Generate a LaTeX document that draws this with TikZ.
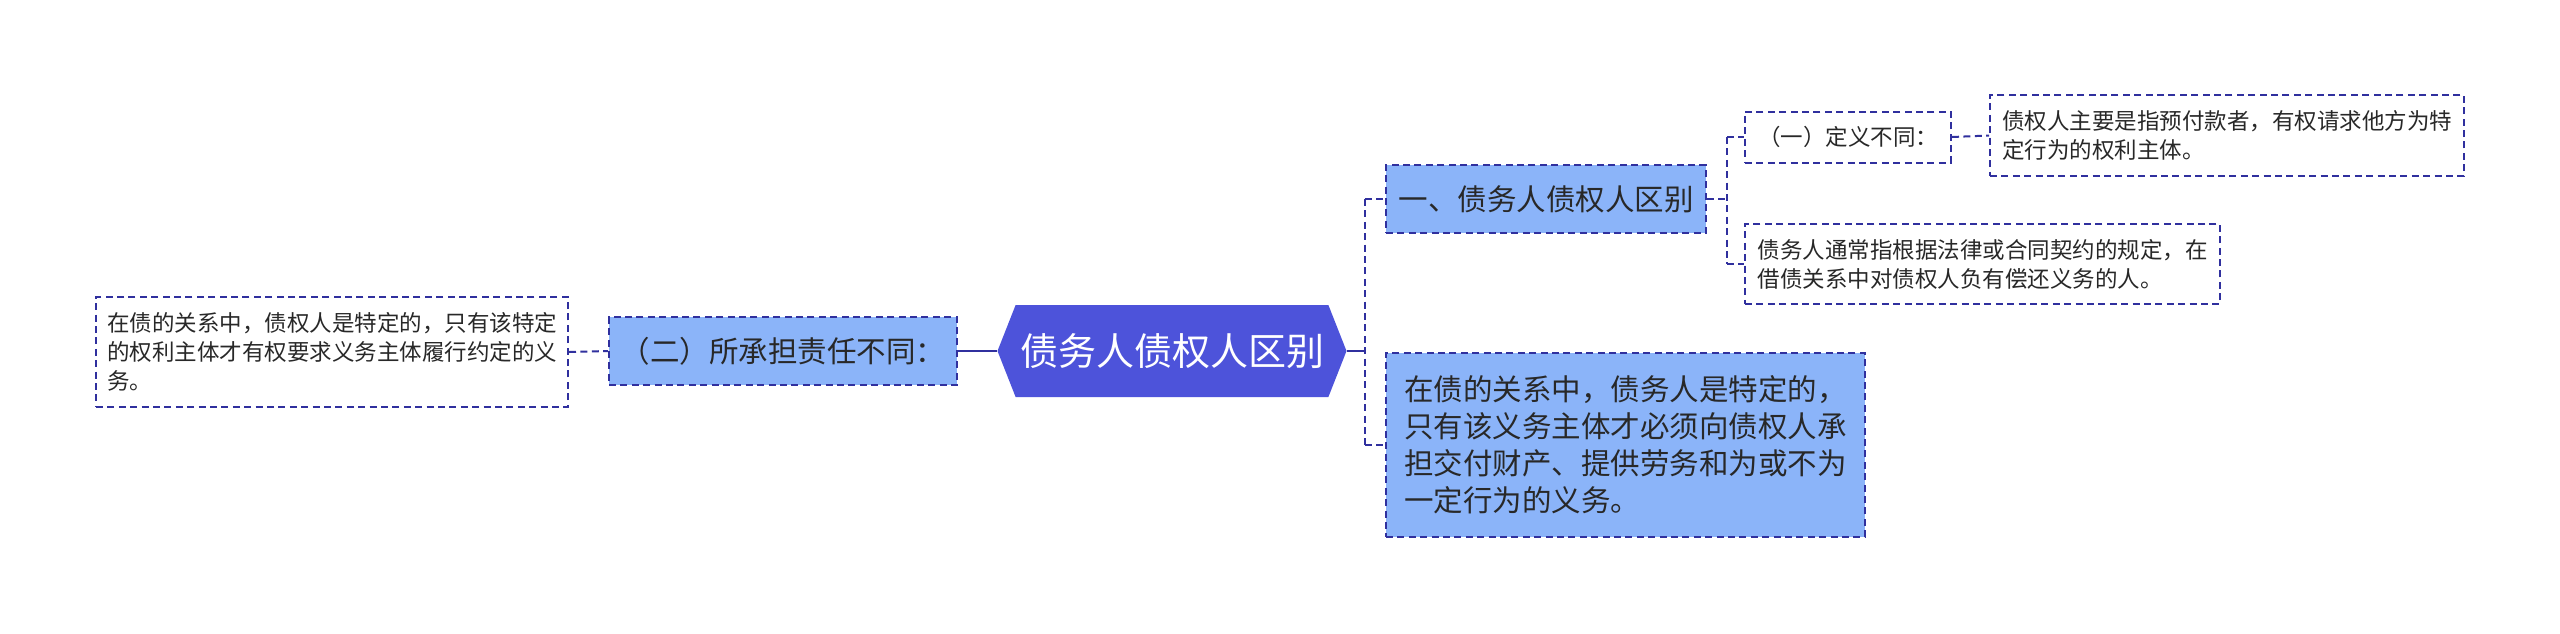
\documentclass[tikz,border=0pt]{standalone}
\usepackage{fontspec}
\newfontfamily\cjk{Noto Sans CJK SC}
\usetikzlibrary{shapes.symbols}

\definecolor{hubblue}{RGB}{77,83,218}
\definecolor{boxblue}{RGB}{139,180,249}
\definecolor{edgeblue}{RGB}{48,48,158}
\definecolor{inkgray}{RGB}{40,40,40}

\tikzset{
  smallfont/.style={font=\cjk\fontsize{11.25}{14.5}\selectfont},
  midfont/.style={font=\cjk\fontsize{14.75}{18.5}\selectfont},
  leaf/.style={draw=edgeblue, line width=1pt, dash pattern=on 3.5pt off 2.2pt,
    fill=white, text=inkgray, align=left, inner sep=0pt, smallfont},
  branch/.style={leaf, fill=boxblue, midfont},
  hub/.style={signal, signal to=west and east, signal pointer angle=137,
    fill=hubblue, text=white, inner sep=0pt, font=\cjk\fontsize{19}{22}\selectfont},
  trunk/.style={draw=edgeblue, line width=1.2pt},
  link/.style={draw=edgeblue, line width=1pt, dash pattern=on 3.5pt off 2.2pt}
}

\begin{document}
\begin{tikzpicture}[x=0.5pt, y=-0.5pt]
  % 画布
  \fill[white] (0,0) rectangle (2560,633);
  \useasboundingbox (0,0) rectangle (2560,633);

  % 中心主题
  \node[hub, minimum width=174.5pt, minimum height=46pt] (root) at (1172,351) {债务人债权人区别};

  % 左侧分支
  \node[branch, minimum width=174pt, minimum height=34pt] (duty) at (783,351) {（二）所承担责任不同：};
  \node[leaf, minimum width=236pt, minimum height=55pt] (leftnote) at (332,352)
    {在债的关系中，债权人是特定的，只有该特定\\的权利主体才有权要求义务主体履行约定的义\\务。};

  % 右侧分支
  \node[branch, minimum width=160pt, minimum height=34pt] (diff) at (1546,199) {一、债务人债权人区别};
  \node[branch, minimum width=239.5pt, minimum height=92pt] (bignote) at (1625.5,445)
    {在债的关系中，债务人是特定的，\\只有该义务主体才必须向债权人承\\担交付财产、提供劳务和为或不为\\一定行为的义务。};

  % 第二层
  \node[leaf, minimum width=103pt, minimum height=25.5pt] (define) at (1848,137) {（一）定义不同：};
  \node[leaf, minimum width=237pt, minimum height=40.5pt] (creditor) at (2227,135.5)
    {债权人主要是指预付款者，有权请求他方为特\\定行为的权利主体。};
  \node[leaf, minimum width=237.5pt, minimum height=40pt] (debtor) at (1982.5,264)
    {债务人通常指根据法律或合同契约的规定，在\\借债关系中对债权人负有偿还义务的人。};

  % 连线
  \draw[trunk] (duty.east) -- (root.west);
  \draw[link] (leftnote.east) -- (duty.west);
  \draw[trunk] (root.east) -- ++(18,0) coordinate (forkA);
  \draw[link, line width=1.4pt] (forkA |- diff.west) -- (forkA |- bignote.west);
  \draw[link] (forkA |- diff.west) -- (diff.west);
  \draw[link] (forkA |- bignote.west) -- (bignote.west);

  \draw[link] (diff.east) -- ++(20,0) coordinate (forkB);
  \draw[link] (forkB |- define.west) -- (forkB |- debtor.west);
  \draw[link] (forkB |- define.west) -- (define.west);
  \draw[link] (forkB |- debtor.west) -- (debtor.west);
  \draw[link] (define.east) -- (creditor.west);
\end{tikzpicture}
\end{document}
